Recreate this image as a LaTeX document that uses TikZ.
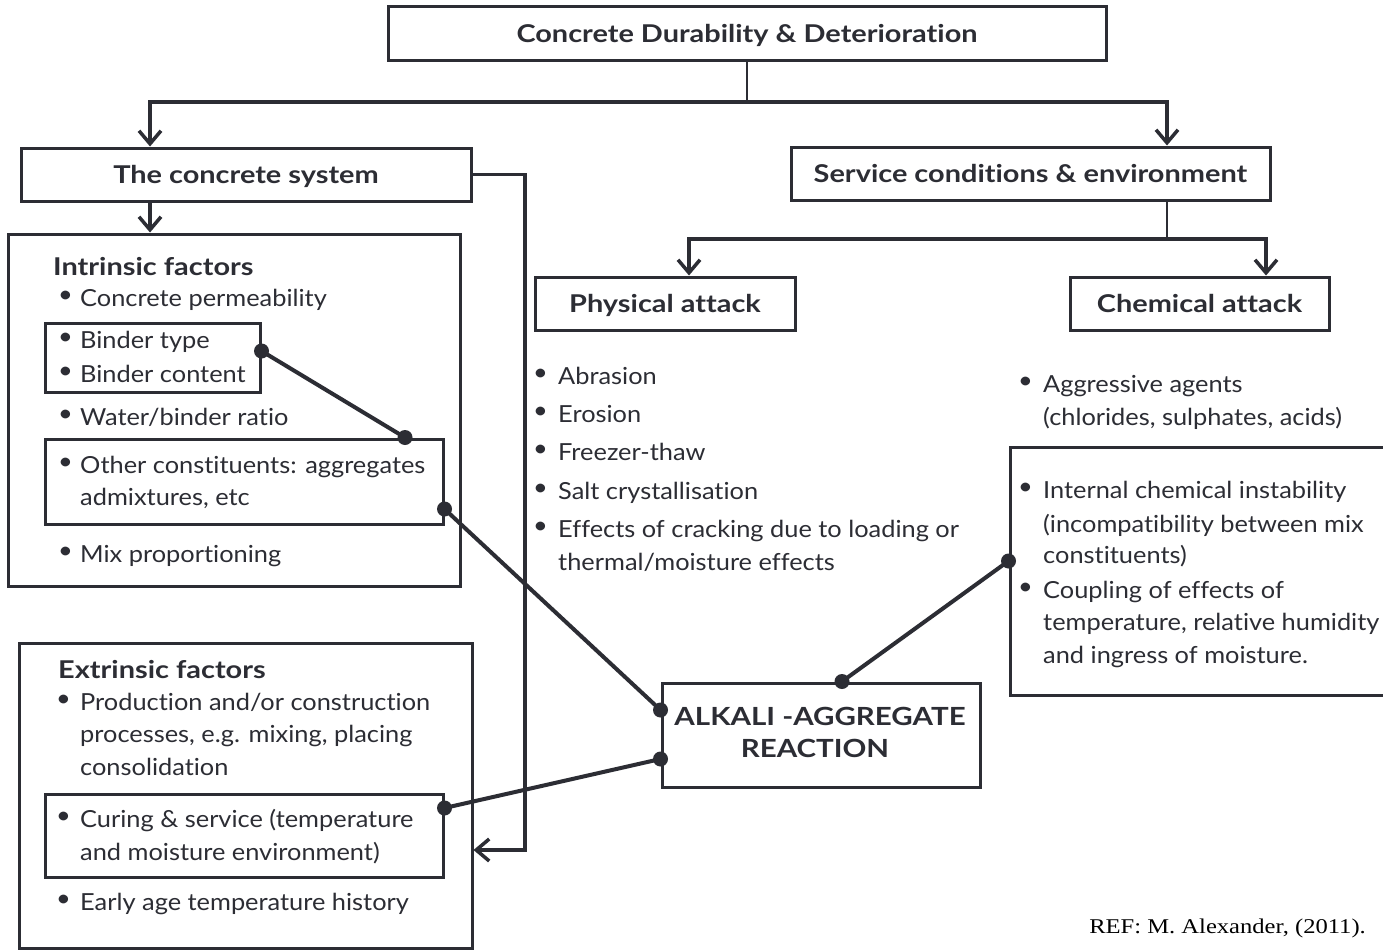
\documentclass[tikz,border=0pt]{standalone}
\usepackage{fontspec}
\setmainfont{Lato}[FakeStretch=1.08, Ligatures=NoCommon]
\newfontfamily\headfont{Lato}[FakeStretch=1.18, Ligatures=NoCommon]
\newfontfamily\citefont{Liberation Serif}[FakeStretch=1.17]
\usetikzlibrary{arrows.meta}
\definecolor{ink}{RGB}{44,45,52}
% bullet followed by a fixed gap before the item text
\newcommand\bl[1]{\makebox[#1pt][l]{\raisebox{4pt}{•}}}

\begin{document}
\begin{tikzpicture}[x=1pt,y=-1pt,
  box/.style={draw=ink, line width=3pt, inner sep=0pt},
  head/.style={font=\headfont\fontsize{24.5}{28}\selectfont\bfseries, text=ink, text height=17pt, text depth=0pt},
  ttl/.style={font=\headfont\fontsize{24.5}{28}\selectfont\bfseries, text=ink, anchor=base west, inner sep=0pt},
  txt/.style={font=\fontsize{23.5}{28}\selectfont, text=ink, anchor=base west, inner sep=0pt},
  caps/.style={font=\headfont\fontsize{25}{28}\selectfont\bfseries, text=ink, anchor=base, inner sep=0pt},
  stub/.style={draw=ink, line width=2.5pt},
  wire/.style={draw=ink, line width=3.5pt},
  arrow/.style={wire, -{Straight Barb[length=13pt,width=22pt]}},
  link/.style={draw=ink, line width=4pt},
  dot/.style={circle, fill=ink, inner sep=0pt, minimum size=15pt},
]
\path[use as bounding box, clip] (0,0) rectangle (1383,950);
\fill[white] (0,0) rectangle (1383,950);

% ---- header boxes ----
\node[box, head, minimum width=718pt, minimum height=54pt] (top) at (747,34) {Concrete Durability \& Deterioration};
\node[box, head, minimum width=450pt, minimum height=53pt] (sys) at (246,174.5) {The concrete system};
\node[box, head, minimum width=479pt, minimum height=53pt] (env) at (1030.5,173.5) {Service conditions \& environment};
\node[box, head, minimum width=260pt, minimum height=53pt] (phys) at (665,303.5) {Physical attack};
\node[box, head, minimum width=259pt, minimum height=53pt] (chem) at (1199.5,303.5) {Chemical attack};

% ---- factor boxes ----
\node[box, minimum width=452pt, minimum height=352pt] (intr) at (234,410) {};
\node[box, minimum width=215pt, minimum height=69pt] (binder) at (152.5,357.5) {};
\node[box, minimum width=398pt, minimum height=85pt] (other) at (244,481.5) {};
\node[box, minimum width=453pt, minimum height=305pt] (extr) at (245.5,795.5) {};
\node[box, minimum width=398pt, minimum height=83pt] (curing) at (244,835.5) {};
\node[box, minimum width=400pt, minimum height=248pt] (chembox) at (1210,571) {};
\node[box, minimum width=318pt, minimum height=104pt] (aar) at (821,735) {};

% ---- tree connectors ----
\coordinate (hubA) at (top.south |- 0,102);
\draw[stub] (top.south) -- (hubA);
\draw[arrow] (hubA) -| (150,0 |- sys.north);
\draw[arrow] (hubA) -| (1167,0 |- env.north);
\draw[arrow] (150,0 |- sys.south) -- (150,0 |- intr.north);

\coordinate (hubB) at (1167,239);
\draw[stub] (1167,0 |- env.south) -- (hubB);
\draw[arrow] (hubB) -| (689,0 |- phys.north);
\draw[arrow] (hubB) -| (1266,0 |- chem.north);

\coordinate (rail) at (525,850);
\draw[arrow] (sys.east) -| (rail) -- (extr.east |- rail);

% ---- intrinsic factors ----
\node[ttl] (intT) at (53,275) {Intrinsic factors};
\node[txt] (i1) at (58,306) {\bl{22}Concrete permeability};
\node[txt] (i2) at (58,348) {\bl{22}Binder type};
\node[txt] (i3) at (58,382) {\bl{22}Binder content};
\node[txt] (i4) at (58,425) {\bl{22}Water/binder ratio};
\node[txt] (i5) at (58,473) {\bl{22}Other constituents: aggregates};
\node[txt] (i5b) at (80,505) {admixtures, etc};
\node[txt] (i6) at (58,562) {\bl{22}Mix proportioning};

% ---- extrinsic factors ----
\node[ttl] (extT) at (58,678) {Extrinsic factors};
\node[txt] (e1) at (56,710) {\bl{24}Production and/or construction};
\node[txt] (e1b) at (80,742) {processes, e.g. mixing, placing};
\node[txt] (e1c) at (80,775) {consolidation};
\node[txt] (e2) at (56,827) {\bl{24}Curing \& service (temperature};
\node[txt] (e2b) at (80,860) {and moisture environment)};
\node[txt] (e3) at (56,910) {\bl{24}Early age temperature history};

% ---- physical attack ----
\node[txt] (p1) at (533,384) {\bl{25}Abrasion};
\node[txt] (p2) at (533,422) {\bl{25}Erosion};
\node[txt] (p3) at (533,460) {\bl{25}Freezer-thaw};
\node[txt] (p4) at (533,499) {\bl{25}Salt crystallisation};
\node[txt] (p5) at (533,537) {\bl{25}Effects of cracking due to loading or};
\node[txt] (p5b) at (558,570) {thermal/moisture effects};

% ---- chemical attack ----
\node[txt] (c1) at (1018,392) {\bl{25}Aggressive agents};
\node[txt] (c1b) at (1043,425) {(chlorides, sulphates, acids)};
\node[txt] (c2) at (1018,498) {\bl{25}Internal chemical instability};
\node[txt] (c2b) at (1043,532) {(incompatibility between mix};
\node[txt] (c2c) at (1043,563) {constituents)};
\node[txt] (c3) at (1018,598) {\bl{25}Coupling of effects of};
\node[txt] (c3b) at (1043,630) {temperature, relative humidity};
\node[txt] (c3c) at (1043,663) {and ingress of moisture.};

% ---- alkali-aggregate reaction ----
\node[caps] (aar1) at (820,725) {ALKALI -AGGREGATE};
\node[caps] (aar2) at (815,757) {REACTION};

% ---- links to the reaction ----
\node[dot] (dB) at (binder.east |- 0,351) {};
\node[dot] (dO1) at (405,0 |- other.north) {};
\node[dot] (dO2) at (other.east |- 0,509) {};
\node[dot] (dC) at (curing.east |- 0,808) {};
\node[dot] (dK) at (chembox.west |- 0,561) {};
\node[dot] (dA1) at (aar.west |- 0,710) {};
\node[dot] (dA2) at (aar.west |- 0,759) {};
\node[dot] (dA3) at (842,0 |- aar.north) {};
\draw[link] (dB.center) -- (dO1.center);
\draw[link] (dO2.center) -- (dA1.center);
\draw[link] (dC.center) -- (dA2.center);
\draw[link] (dK.center) -- (dA3.center);

% ---- source ----
\node[font=\citefont\fontsize{21}{24}\selectfont, text=black, anchor=base east, inner sep=0pt] (src) at (1366,933) {REF: M. Alexander, (2011).};
\end{tikzpicture}
\end{document}
